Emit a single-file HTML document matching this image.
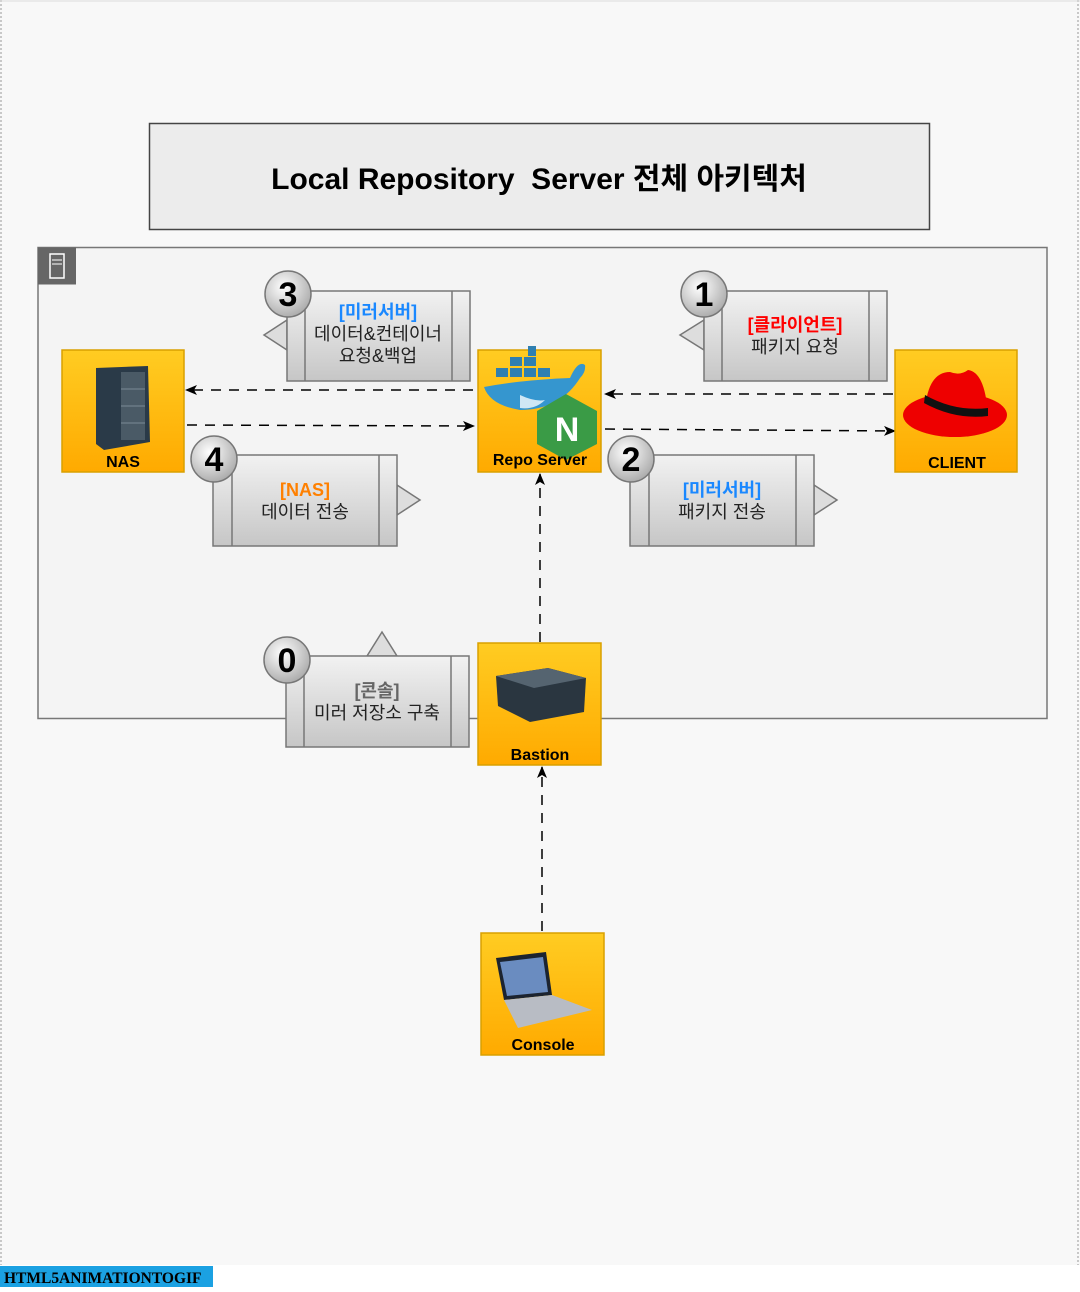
<!DOCTYPE html>
<html><head><meta charset="utf-8">
<style>
html,body{margin:0;padding:0;background:#fff;}
body{width:1080px;height:1287px;overflow:hidden;position:relative;font-family:"Liberation Sans","Noto Sans CJK KR",sans-serif;}
svg text{font-family:"Liberation Sans","Noto Sans CJK KR",sans-serif;}
</style></head><body>
<svg width="1080" height="1287" viewBox="0 0 1080 1287" xmlns="http://www.w3.org/2000/svg">
<defs>
<linearGradient id="gy" x1="0" y1="0" x2="0" y2="1"><stop offset="0" stop-color="#ffcc22"/><stop offset="1" stop-color="#ffaa00"/></linearGradient>
<linearGradient id="gg" x1="0" y1="0" x2="0" y2="1"><stop offset="0" stop-color="#f2f2f2"/><stop offset="1" stop-color="#c6c6c6"/></linearGradient>
<radialGradient id="gc" cx="0.4" cy="0.35" r="0.7"><stop offset="0" stop-color="#ffffff"/><stop offset="1" stop-color="#a8a8a8"/></radialGradient>
<marker id="ar" markerWidth="12" markerHeight="10" refX="11" refY="5" orient="auto" markerUnits="userSpaceOnUse"><path d="M0,0 L12,5 L0,10 L3,5 Z" fill="#000"/></marker>
</defs>
<rect x="0" y="0" width="1080" height="1287" fill="#f8f8f8"/>
<line x1="1" y1="0" x2="1" y2="1265" stroke="#999" stroke-dasharray="2,2"/>
<line x1="1078" y1="0" x2="1078" y2="1265" stroke="#999" stroke-dasharray="2,2"/>
<line x1="0" y1="1" x2="1080" y2="1" stroke="#ddd"/>
<!-- title -->
<rect x="149.5" y="123.5" width="780" height="106" fill="#ececec" stroke="#444" stroke-width="1.5"/>
<text x="539" y="189" text-anchor="middle" font-size="30" font-weight="bold" fill="#000" xml:space="preserve">Local Repository  Server 전체 아키텍처</text>
<!-- container -->
<rect x="38" y="247.5" width="1009" height="471" fill="#f4f4f4" stroke="#777" stroke-width="1.5"/>
<rect x="38" y="247.5" width="38" height="37" fill="#666"/>
<rect x="50" y="254" width="14" height="24" fill="none" stroke="#fff" stroke-width="1.5"/>
<line x1="52" y1="260" x2="62" y2="260" stroke="#fff"/><line x1="52" y1="264" x2="62" y2="264" stroke="#fff"/>

<!-- arrows -->
<g stroke="#000" stroke-width="1.5" stroke-dasharray="10,8" fill="none">
<line x1="473" y1="390" x2="186" y2="390" marker-end="url(#ar)"/>
<line x1="187" y1="425" x2="474" y2="426" marker-end="url(#ar)"/>
<line x1="893" y1="394" x2="605" y2="394" marker-end="url(#ar)"/>
<line x1="605" y1="429" x2="895" y2="431" marker-end="url(#ar)"/>
<line x1="540" y1="642" x2="540" y2="474" marker-end="url(#ar)"/>
<line x1="542" y1="931" x2="542" y2="767" marker-end="url(#ar)"/>
</g>

<!-- callouts -->
<g stroke="#777" stroke-width="1.5">
<path d="M287,320 L264,335 L287,350 Z" fill="#ddd"/>
<rect x="287" y="291" width="183" height="90" fill="url(#gg)"/>
<line x1="305" y1="291" x2="305" y2="381"/><line x1="452" y1="291" x2="452" y2="381"/>
<path d="M704,320 L680,335 L704,350 Z" fill="#ddd"/>
<rect x="704" y="291" width="183" height="90" fill="url(#gg)"/>
<line x1="722" y1="291" x2="722" y2="381"/><line x1="869" y1="291" x2="869" y2="381"/>
<path d="M397,485 L420,500 L397,515 Z" fill="#ddd"/>
<rect x="213" y="455" width="184" height="91" fill="url(#gg)"/>
<line x1="232" y1="455" x2="232" y2="546"/><line x1="379" y1="455" x2="379" y2="546"/>
<path d="M814,485 L837,500 L814,515 Z" fill="#ddd"/>
<rect x="630" y="455" width="184" height="91" fill="url(#gg)"/>
<line x1="649" y1="455" x2="649" y2="546"/><line x1="796" y1="455" x2="796" y2="546"/>
<path d="M367,656 L382,632 L397,656 Z" fill="#ddd"/>
<rect x="286" y="656" width="183" height="91" fill="url(#gg)"/>
<line x1="304" y1="656" x2="304" y2="747"/><line x1="451" y1="656" x2="451" y2="747"/>
</g>
<g stroke="#777" stroke-width="1.5" fill="url(#gc)">
<circle cx="288" cy="294" r="23"/><circle cx="704" cy="294" r="23"/>
<circle cx="214" cy="459" r="23"/><circle cx="631" cy="459" r="23"/>
<circle cx="287" cy="660" r="23"/>
</g>
<g font-size="34" font-weight="bold" text-anchor="middle" fill="#000">
<text x="288" y="306">3</text><text x="704" y="306">1</text>
<text x="214" y="471">4</text><text x="631" y="471">2</text>
<text x="287" y="672">0</text>
</g>
<g font-size="18" text-anchor="middle">
<text x="378" y="318" fill="#1a88ff" font-weight="bold">[미러서버]</text>
<text x="378" y="340" fill="#222">데이터&amp;컨테이너</text>
<text x="378" y="362" fill="#222">요청&amp;백업</text>
<text x="795" y="331" fill="#ff0000" font-weight="bold">[클라이언트]</text>
<text x="795" y="353" fill="#222">패키지 요청</text>
<text x="305" y="496" fill="#ff8000" font-weight="bold">[NAS]</text>
<text x="305" y="518" fill="#222">데이터 전송</text>
<text x="722" y="496" fill="#1a88ff" font-weight="bold">[미러서버]</text>
<text x="722" y="518" fill="#222">패키지 전송</text>
<text x="377" y="697" fill="#666" font-weight="bold">[콘솔]</text>
<text x="377" y="719" fill="#222">미러 저장소 구축</text>
</g>

<!-- nodes -->
<g stroke="#d9a000" stroke-width="1.5" fill="url(#gy)">
<rect x="62" y="350" width="122" height="122"/>
<rect x="478" y="350" width="123" height="122"/>
<rect x="895" y="350" width="122" height="122"/>
<rect x="478" y="643" width="123" height="122"/>
<rect x="481" y="933" width="123" height="122"/>
</g>
<path d="M96,368 L148,366 L150,442 L104,450 L96,444 Z" fill="#2a3a48"/>
<rect x="121" y="372" width="24" height="68" fill="#4a5a66"/>
<g stroke="#7a8a96" stroke-width="1"><line x1="121" y1="389" x2="145" y2="389"/><line x1="121" y1="406" x2="145" y2="406"/><line x1="121" y1="423" x2="145" y2="423"/></g>
<g fill="#2f7fb0">
<rect x="510" y="357" width="12" height="9"/><rect x="524" y="357" width="12" height="9"/>
<rect x="496" y="368" width="12" height="9"/><rect x="510" y="368" width="12" height="9"/><rect x="524" y="368" width="12" height="9"/><rect x="538" y="368" width="12" height="9"/>
<rect x="528" y="346" width="8" height="10"/>
</g>
<path d="M484,387 Q520,380 570,378 Q578,360 585,365 Q586,372 580,378 Q560,410 520,410 Q490,405 484,387 Z" fill="#3596cf"/>
<path d="M520,395 Q535,402 545,400 Q535,410 520,408 Z" fill="#cfe7f5"/>
<path d="M566,394 L597,411 L597,444 L566,460 L537,444 L537,411 Z" fill="#3a9b46"/>
<text x="567" y="441" text-anchor="middle" font-size="34" font-weight="bold" fill="#fff">N</text>
<ellipse cx="955" cy="415" rx="52" ry="22" fill="#e00"/>
<path d="M925,410 Q928,372 950,372 Q960,376 968,370 Q985,372 988,415 Z" fill="#e00"/>
<path d="M925,395 Q955,412 988,408 L988,416 Q955,420 924,403 Z" fill="#111"/>
<path d="M496,676 L548,668 L586,678 L584,712 L530,722 L498,706 Z" fill="#2a3640"/>
<path d="M496,676 L548,668 L586,678 L534,688 Z" fill="#556470"/>
<path d="M496,958 L546,952 L552,995 L504,1000 Z" fill="#1c2430"/>
<path d="M500,962 L543,957 L548,992 L507,996 Z" fill="#6a8cc0"/>
<path d="M504,1000 L552,995 L592,1010 L518,1028 Z" fill="#b8bcc4"/>
<g font-size="16" font-weight="bold" text-anchor="middle" fill="#000">
<text x="123" y="467">NAS</text>
<text x="540" y="465">Repo Server</text>
<text x="957" y="468">CLIENT</text>
<text x="540" y="760">Bastion</text>
<text x="543" y="1050">Console</text>
</g>
<rect x="0" y="1265" width="1080" height="22" fill="#fff"/>
<rect x="0" y="1266" width="213" height="21" fill="#1ba1e2"/>
<text x="4" y="1283" font-weight="bold" font-size="15.5" fill="#000" style="font-family:'Liberation Serif',serif">HTML5ANIMATIONTOGIF</text>
</svg>
</body></html>
